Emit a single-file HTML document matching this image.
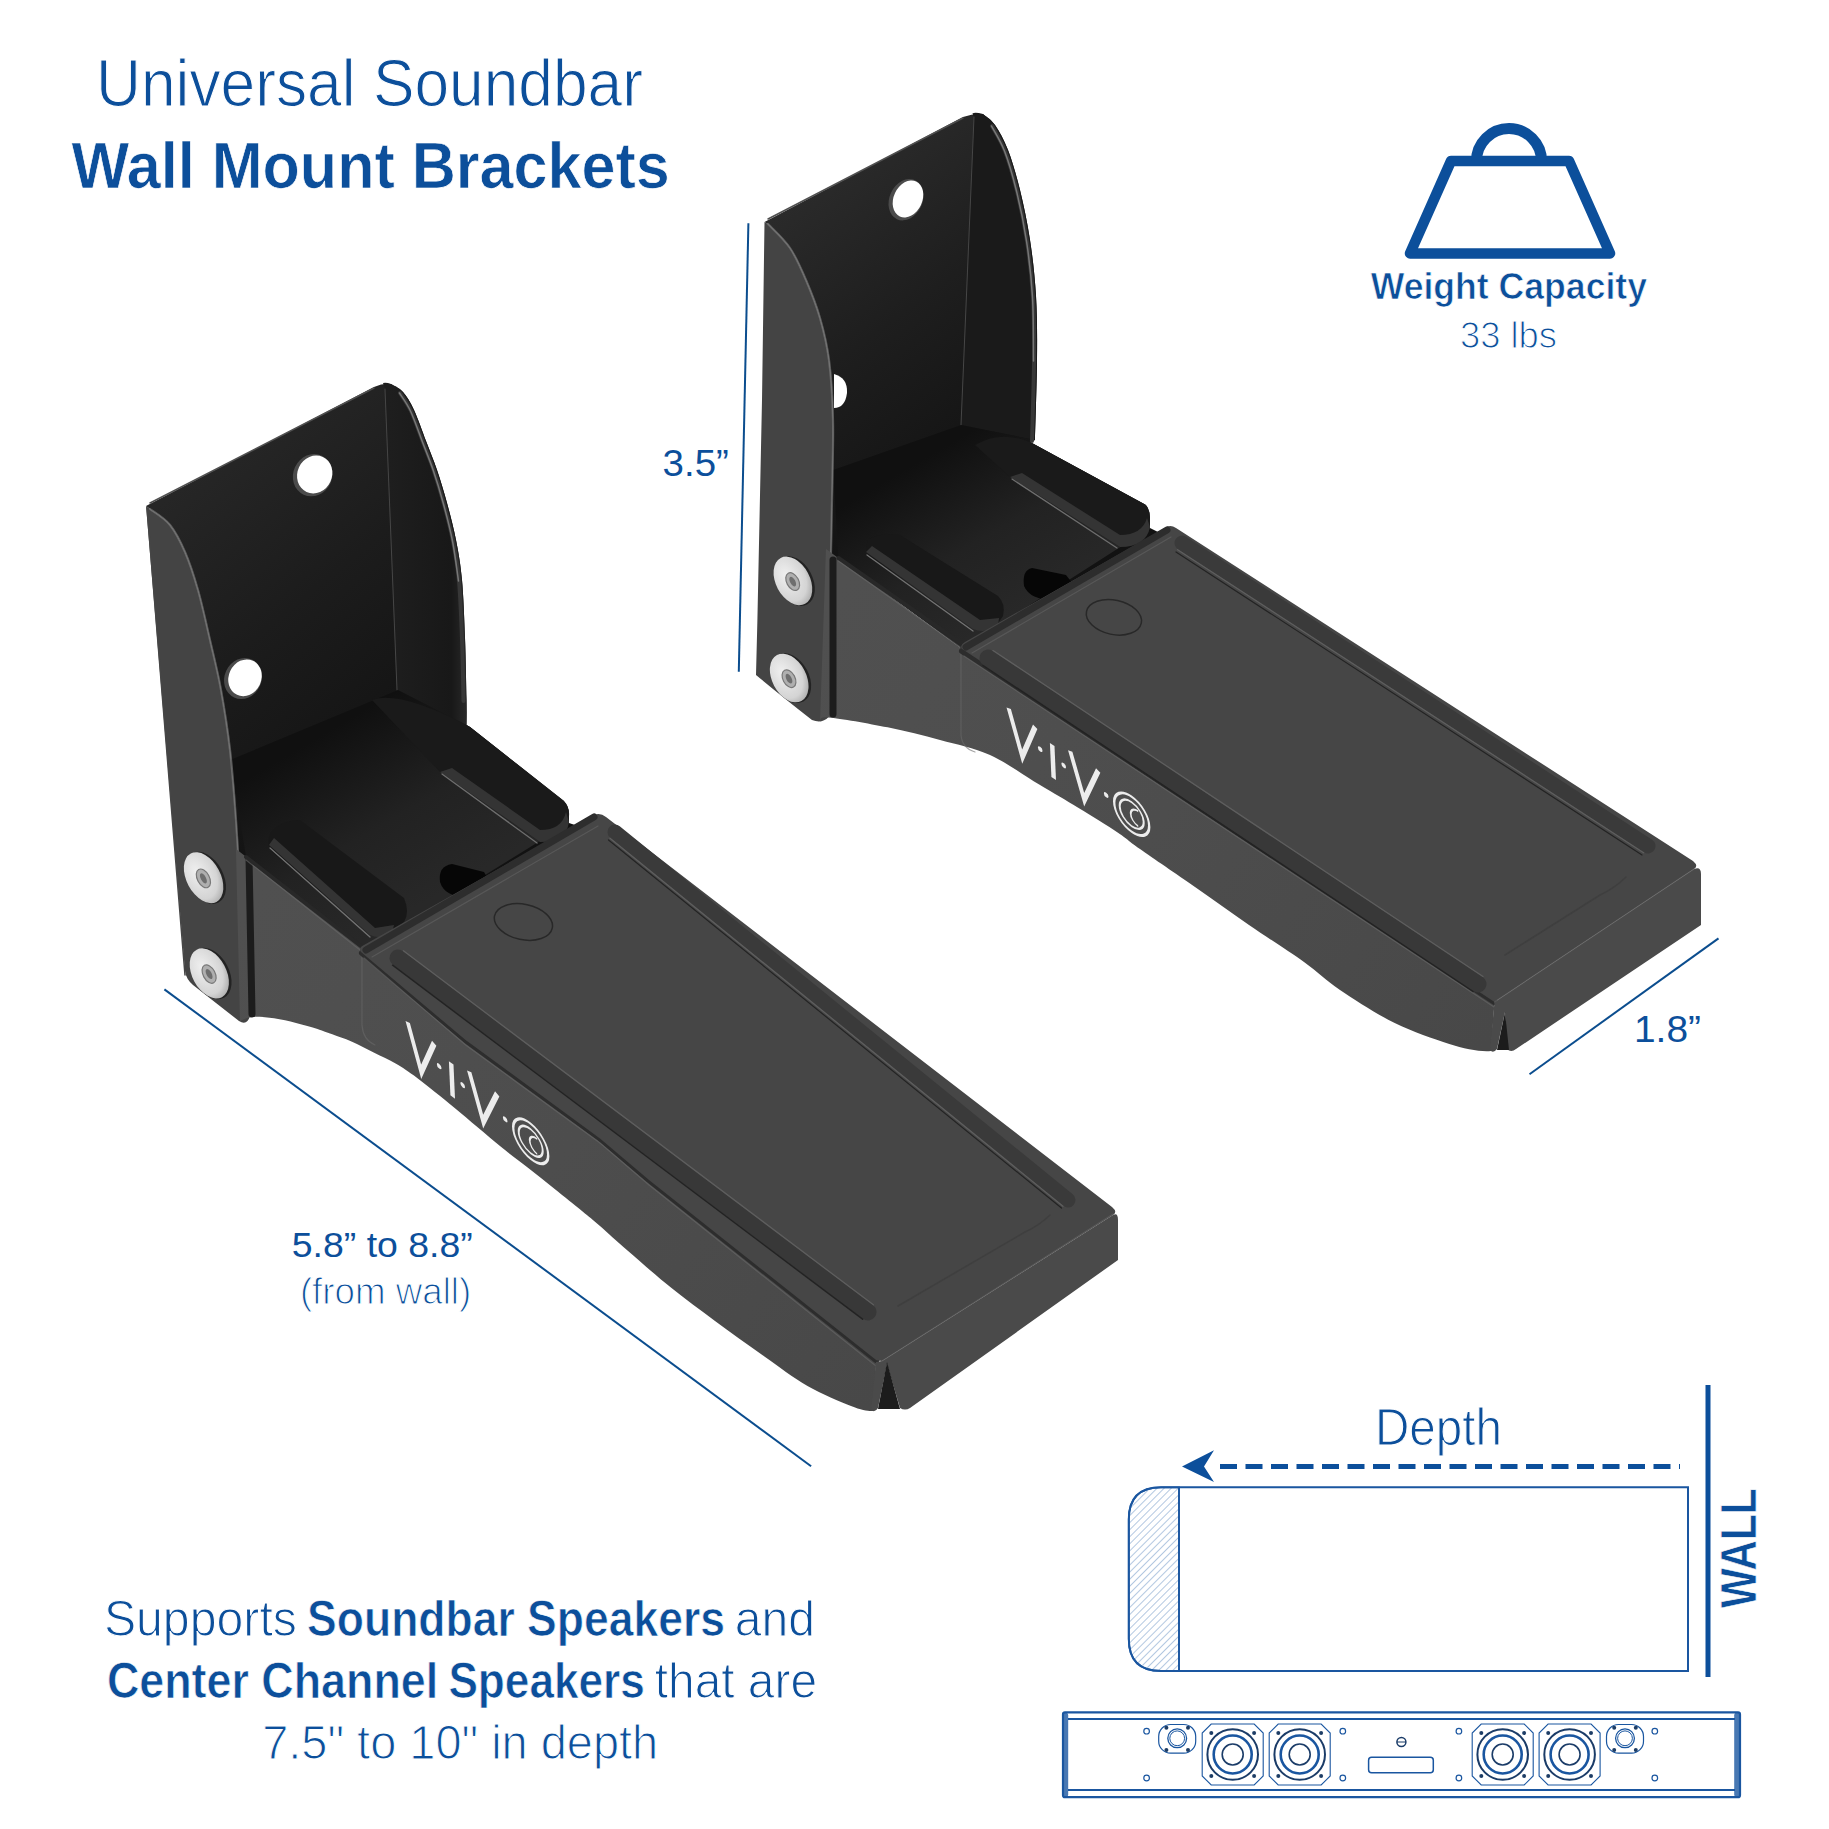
<!DOCTYPE html>
<html><head><meta charset="utf-8"><style>
html,body{margin:0;padding:0;background:#fff;}
svg{display:block;}
text{font-family:"Liberation Sans",sans-serif;fill:#0c4f9b;}
text.lt{stroke:#fff;stroke-width:1.1px;paint-order:normal;}
text[font-weight=bold]{stroke:#fff;stroke-width:0.7px;}
</style></head><body>
<svg width="1829" height="1829" viewBox="0 0 1829 1829" xmlns="http://www.w3.org/2000/svg">
<rect width="1829" height="1829" fill="#fff"/>
<defs>
<linearGradient id="bp1" gradientUnits="userSpaceOnUse" x1="190" y1="480" x2="420" y2="760">
<stop offset="0" stop-color="rgb(38,38,38)"/><stop offset="0.45" stop-color="rgb(28,28,28)"/><stop offset="1" stop-color="rgb(18,18,18)"/></linearGradient>
<linearGradient id="bp2" gradientUnits="userSpaceOnUse" x1="800" y1="200" x2="1000" y2="470">
<stop offset="0" stop-color="rgb(42,42,42)"/><stop offset="0.45" stop-color="rgb(30,30,30)"/><stop offset="1" stop-color="rgb(18,18,18)"/></linearGradient>
<linearGradient id="rf1" gradientUnits="userSpaceOnUse" x1="390" y1="0" x2="467" y2="0">
<stop offset="0" stop-color="rgb(30,30,30)"/><stop offset="0.8" stop-color="rgb(24,24,24)"/><stop offset="1" stop-color="rgb(40,40,40)"/></linearGradient>
<linearGradient id="sf1" gradientUnits="userSpaceOnUse" x1="250" y1="900" x2="880" y2="1400">
<stop offset="0" stop-color="rgb(80,80,80)"/><stop offset="0.5" stop-color="rgb(77,77,77)"/><stop offset="1" stop-color="rgb(72,72,72)"/></linearGradient>
<linearGradient id="sf2" gradientUnits="userSpaceOnUse" x1="830" y1="600" x2="1490" y2="1040">
<stop offset="0" stop-color="rgb(80,80,80)"/><stop offset="0.5" stop-color="rgb(77,77,77)"/><stop offset="1" stop-color="rgb(72,72,72)"/></linearGradient>
<linearGradient id="fl1" gradientUnits="userSpaceOnUse" x1="330" y1="730" x2="430" y2="900">
<stop offset="0" stop-color="rgb(16,16,16)"/><stop offset="0.55" stop-color="rgb(34,34,34)"/><stop offset="1" stop-color="rgb(40,40,40)"/></linearGradient>
<linearGradient id="fl2" gradientUnits="userSpaceOnUse" x1="930" y1="455" x2="1020" y2="610">
<stop offset="0" stop-color="rgb(16,16,16)"/><stop offset="0.55" stop-color="rgb(34,34,34)"/><stop offset="1" stop-color="rgb(40,40,40)"/></linearGradient>
<radialGradient id="bolt" cx="0.4" cy="0.35" r="0.75">
<stop offset="0" stop-color="#f0f0f0"/><stop offset="0.7" stop-color="#d4d4d4"/><stop offset="1" stop-color="#a0a0a0"/></radialGradient>
</defs>
<path d="M146.0 506.0 L374.0 387.0 Q383.0 383.0 391.0 384.0 C393.0 385.3 399.2 387.7 403.0 392.0 C406.8 396.3 410.2 401.8 414.0 410.0 C417.8 418.2 422.2 431.0 426.0 441.0 C429.8 451.0 433.5 459.7 437.0 470.0 C440.5 480.3 443.8 491.3 447.0 503.0 C450.2 514.7 453.5 527.2 456.0 540.0 C458.5 552.8 460.5 563.7 462.0 580.0 C463.5 596.3 464.2 618.0 465.0 638.0 C465.8 658.0 466.2 685.5 466.5 700.0 C466.8 714.5 466.5 720.8 466.5 725.0 L470.0 727.0 L564.0 801.0 Q569.0 806.0 569.0 815.0 L569.0 823.0 L578.0 826.0 L594.0 815.0 L361.0 952.0 L246.0 856.0 L241.0 900.0 C240.2 886.7 237.8 845.0 236.0 820.0 C234.2 795.0 232.5 771.7 230.0 750.0 C227.5 728.3 224.3 708.3 221.0 690.0 C217.7 671.7 213.8 656.7 210.0 640.0 C206.2 623.3 202.2 604.7 198.0 590.0 C193.8 575.3 189.7 562.8 185.0 552.0 C180.3 541.2 175.8 532.2 170.0 525.0 C164.2 517.8 153.3 511.7 150.0 509.0 Z" fill="url(#bp1)" />
<path d="M385.0 389.0 L383.0 383.0 Q386.0 382.0 391.0 384.0 C393.0 385.3 399.2 387.7 403.0 392.0 C406.8 396.3 410.2 401.8 414.0 410.0 C417.8 418.2 422.2 431.0 426.0 441.0 C429.8 451.0 433.5 459.7 437.0 470.0 C440.5 480.3 443.8 491.3 447.0 503.0 C450.2 514.7 453.5 527.2 456.0 540.0 C458.5 552.8 460.5 563.7 462.0 580.0 C463.5 596.3 464.2 618.0 465.0 638.0 C465.8 658.0 466.2 685.5 466.5 700.0 C466.8 714.5 466.5 720.8 466.5 725.0 L420.0 705.0 L397.0 690.0 Z" fill="url(#rf1)" />
<path d="M385.0 389.0 L397.0 690.0" fill="none" stroke="rgb(70,70,70)" stroke-width="1" stroke-linecap="round" stroke-linejoin="round" />
<path d="M230.0 760.0 L398.0 690.0 L466.5 725.0 L470.0 727.0 L564.0 801.0 L569.0 823.0 L361.0 952.0 L246.0 856.0 Z" fill="url(#fl1)" />
<path d="M400.0 393.0 C401.8 396.0 407.2 402.8 411.0 411.0 C414.8 419.2 419.2 432.0 423.0 442.0 C426.8 452.0 430.5 460.7 434.0 471.0 C437.5 481.3 440.8 492.3 444.0 504.0 C447.2 515.7 450.5 528.2 453.0 541.0 C455.5 553.8 457.5 564.7 459.0 581.0 C460.5 597.3 461.2 619.0 462.0 639.0 C462.8 659.0 463.2 690.7 463.5 701.0" fill="none" stroke="rgb(55,55,55)" stroke-width="4" stroke-linecap="round" stroke-linejoin="round" />
<path d="M399.5 393.0 C401.3 396.0 406.7 402.8 410.5 411.0 C414.3 419.2 418.7 432.0 422.5 442.0 C426.3 452.0 430.0 460.7 433.5 471.0 C437.0 481.3 440.3 492.3 443.5 504.0 C446.7 515.7 450.0 528.2 452.5 541.0 C455.0 553.8 457.5 574.3 458.5 581.0" fill="none" stroke="rgb(130,130,130)" stroke-width="1.5" stroke-linecap="round" stroke-linejoin="round" opacity="0.85"/>
<path d="M150.0 503.0 L374.0 388.0" fill="none" stroke="rgb(80,80,80)" stroke-width="1.5" stroke-linecap="round" stroke-linejoin="round" />
<path d="M146.0 506.0 L185.0 971.0 Q186.0 979.0 193.0 985.0 L239.0 1021.0 Q247.0 1026.0 250.0 1016.0 L249.0 1017.0 C248.5 1010.8 247.3 999.5 246.0 980.0 C244.7 960.5 242.7 926.7 241.0 900.0 C239.3 873.3 237.8 845.0 236.0 820.0 C234.2 795.0 232.5 771.7 230.0 750.0 C227.5 728.3 224.3 708.3 221.0 690.0 C217.7 671.7 213.8 656.7 210.0 640.0 C206.2 623.3 202.2 604.7 198.0 590.0 C193.8 575.3 189.7 562.8 185.0 552.0 C180.3 541.2 175.8 532.2 170.0 525.0 C164.2 517.8 153.3 511.7 150.0 509.0 Z" fill="rgb(68,68,68)" />
<path d="M150.0 509.0 C153.3 511.7 164.2 517.8 170.0 525.0 C175.8 532.2 180.3 541.2 185.0 552.0 C189.7 562.8 193.8 575.3 198.0 590.0 C202.2 604.7 206.2 623.3 210.0 640.0 C213.8 656.7 217.7 671.7 221.0 690.0 C224.3 708.3 227.5 728.3 230.0 750.0 C232.5 771.7 234.2 795.0 236.0 820.0 C237.8 845.0 239.3 873.3 241.0 900.0 C242.7 926.7 245.2 966.7 246.0 980.0" fill="none" stroke="rgb(120,120,120)" stroke-width="2.2" stroke-linecap="round" stroke-linejoin="round" opacity="0.7"/>
<path d="M147.0 508.0 L185.0 975.0" fill="none" stroke="rgb(70,70,70)" stroke-width="1.5" stroke-linecap="round" stroke-linejoin="round" />
<ellipse cx="312.7" cy="475.2" rx="19.5" ry="21.5" transform="rotate(25 312.7 475.2)" fill="rgb(75,75,75)"/><ellipse cx="314.2" cy="473.7" rx="17.3" ry="19.3" transform="rotate(25 312.7 475.2)" fill="#fff"/>
<ellipse cx="243" cy="678.5" rx="18.5" ry="21" transform="rotate(25 243 678.5)" fill="rgb(75,75,75)"/><ellipse cx="244.5" cy="677.0" rx="16.3" ry="18.8" transform="rotate(25 243 678.5)" fill="#fff"/>
<path d="M440.0 772.0 L372.0 700.0 Q400.0 690.0 470.0 727.0 L562.0 800.0 Q570.0 806.0 569.0 816.0 L569.0 822.0 Q566.0 842.0 540.0 842.0 Z" fill="rgb(26,26,26)" />
<path d="M440.0 772.0 L540.0 842.0 Q566.0 842.0 569.0 822.0 L566.0 812.0 Q562.0 830.0 540.0 830.0 L452.0 768.0 Z" fill="rgb(52,52,52)" />
<path d="M442.0 774.0 L537.0 843.0" fill="none" stroke="rgb(110,110,110)" stroke-width="1.3" stroke-linecap="round" stroke-linejoin="round" />
<path d="M270.0 834.0 Q266.0 845.0 272.0 852.0 L372.0 934.0 Q378.0 938.0 388.0 934.0 L404.0 922.0 Q410.0 912.0 404.0 898.0 L300.0 820.0 Q280.0 820.0 270.0 834.0 Z" fill="rgb(24,24,24)" />
<path d="M269.0 845.0 L370.0 935.0 Q380.0 940.0 392.0 933.0 L394.0 925.0 L375.0 928.0 L274.0 838.0 Z" fill="rgb(52,52,52)" />
<path d="M270.0 848.0 L370.0 937.0" fill="none" stroke="rgb(115,115,115)" stroke-width="1.3" stroke-linecap="round" stroke-linejoin="round" />
<path d="M452.0 864.0 L484.0 872.0 L492.0 886.0 L470.0 897.0 Q445.0 898.0 440.0 882.0 Q438.0 866.0 452.0 864.0 Z" fill="rgb(6,6,6)" />
<path d="M236.0 849.0 L362.0 947.0 L465.6 1040.0 L600.0 1138.4 L649.0 1180.0 L876.4 1360.2 L873.0 1411.0 C869.3 1411.4 861.9 1410.4 851.0 1406.0 C840.1 1401.6 822.0 1394.3 807.5 1386.0 C793.0 1377.7 779.1 1366.8 763.7 1356.0 C748.3 1345.2 730.4 1332.4 715.0 1321.0 C699.6 1309.6 685.8 1299.5 671.2 1287.8 C656.6 1276.1 639.4 1260.9 627.5 1250.6 C615.6 1240.3 607.6 1232.6 600.0 1226.0 C592.4 1219.4 589.5 1217.2 582.0 1211.0 C574.5 1204.8 563.8 1196.3 554.7 1189.0 C545.6 1181.7 536.4 1174.4 527.3 1167.2 C518.2 1160.0 512.1 1155.9 500.0 1146.0 C487.9 1136.1 468.4 1119.3 454.7 1108.0 C440.9 1096.7 427.4 1085.7 417.5 1078.3 C407.6 1070.9 402.9 1067.9 395.6 1063.6 C388.3 1059.3 381.0 1056.2 373.7 1052.6 C366.4 1048.9 359.3 1044.9 352.0 1041.7 C344.7 1038.5 335.8 1035.7 330.0 1033.6 C324.2 1031.5 323.2 1030.8 317.5 1029.0 C311.8 1027.2 303.2 1024.8 296.0 1023.0 C288.8 1021.2 281.3 1019.3 274.0 1018.3 C266.7 1017.3 257.7 1016.5 252.0 1017.0 C246.3 1017.5 242.0 1020.3 240.0 1021.0 Z" fill="url(#sf1)" />
<path d="M362.0 952.0 L362.0 1025.0 Q363.0 1040.0 375.0 1045.0" fill="none" stroke="rgb(105,105,105)" stroke-width="1.2" stroke-linecap="round" stroke-linejoin="round" opacity="0.6"/>
<path d="M249.0 858.0 L252.0 1014.0" fill="none" stroke="rgb(28,28,28)" stroke-width="7" stroke-linecap="round" stroke-linejoin="round" />
<path d="M246.0 857.0 L362.0 947.0" fill="none" stroke="rgb(40,40,40)" stroke-width="4" stroke-linecap="round" stroke-linejoin="round" />
<path d="M246.0 860.0 L360.0 950.0" fill="none" stroke="rgb(105,105,105)" stroke-width="1.2" stroke-linecap="round" stroke-linejoin="round" opacity="0.6"/>
<path d="M362.0 953.0 L465.6 1040.0 L600.0 1138.4 L649.0 1180.0 L876.4 1360.2" fill="none" stroke="rgb(45,45,45)" stroke-width="6" stroke-linecap="round" stroke-linejoin="round" />
<path d="M364.0 958.0 L465.6 1045.0 L600.0 1143.0 L649.0 1185.0 L876.0 1366.0" fill="none" stroke="rgb(105,105,105)" stroke-width="1.2" stroke-linecap="round" stroke-linejoin="round" opacity="0.6"/>
<path d="M594.0 815.0 Q600.0 812.0 606.0 817.0 L1112.0 1207.0 Q1118.0 1212.0 1113.0 1215.0 L882.0 1361.0 L876.4 1360.2 L649.0 1180.0 L600.0 1138.4 L465.6 1040.0 L361.0 952.0 Q358.0 948.0 364.0 945.0 Z" fill="rgb(70,70,70)" />
<path d="M366.0 950.0 L594.0 817.0" fill="none" stroke="rgb(45,45,45)" stroke-width="7" stroke-linecap="round" stroke-linejoin="round" />
<path d="M372.0 957.0 L598.0 826.0" fill="none" stroke="rgb(95,95,95)" stroke-width="1.2" stroke-linecap="round" stroke-linejoin="round" opacity="0.7"/>
<path d="M398.0 958.0 L868.0 1312.0" fill="none" stroke="rgb(56,56,56)" stroke-width="17" stroke-linecap="round" stroke-linejoin="round" />
<path d="M403.4 950.8 L873.4 1304.8" fill="none" stroke="rgb(100,100,100)" stroke-width="1.3" stroke-linecap="round" stroke-linejoin="round" opacity="0.8"/>
<path d="M392.6 965.2 L862.6 1319.2" fill="none" stroke="rgb(35,35,35)" stroke-width="1.5" stroke-linecap="round" stroke-linejoin="round" />
<path d="M615.0 832.0 L1068.0 1200.0" fill="none" stroke="rgb(58,58,58)" stroke-width="15" stroke-linecap="round" stroke-linejoin="round" />
<path d="M610.0 838.2 L1063.0 1206.2" fill="none" stroke="rgb(100,100,100)" stroke-width="1.3" stroke-linecap="round" stroke-linejoin="round" opacity="0.8"/>
<path d="M608.5 840.0 L1061.5 1208.0" fill="none" stroke="rgb(35,35,35)" stroke-width="1.2" stroke-linecap="round" stroke-linejoin="round" />
<path d="M1050.0 1215.0 Q1040.0 1225.0 1025.0 1232.0 L898.0 1306.0" fill="none" stroke="rgb(60,60,60)" stroke-width="1.5" stroke-linecap="round" stroke-linejoin="round" opacity="0.7"/>
<ellipse cx="523.4" cy="922" rx="29.5" ry="17.7" transform="rotate(12 523.4 922)" fill="rgb(70,70,70)" stroke="rgb(40,40,40)" stroke-width="1.5"/>
<path d="M1113.0 1215.0 Q1118.0 1212.0 1118.0 1220.0 L1118.0 1260.0 L910.0 1408.0 Q905.0 1411.0 900.0 1408.0 L887.0 1364.0 L878.0 1408.0 Q875.0 1413.0 871.0 1410.0 L876.0 1362.0 L882.0 1361.0 Z" fill="rgb(74,74,74)" />
<path d="M878.0 1409.0 L887.0 1362.0 L900.0 1409.0 Z" fill="rgb(28,28,28)" />
<path d="M882.0 1361.0 L1113.0 1214.0" fill="none" stroke="rgb(100,100,100)" stroke-width="1.2" stroke-linecap="round" stroke-linejoin="round" opacity="0.6"/>
<ellipse cx="205.1" cy="878.7" rx="18.0" ry="28.0" transform="rotate(-28 203.6 877.7)" fill="rgb(35,35,35)"/>
<ellipse cx="203.6" cy="877.7" rx="17.0" ry="27.4" transform="rotate(-28 203.6 877.7)" fill="url(#bolt)"/>
<ellipse cx="203.1" cy="878.2" rx="6.0" ry="10.1" transform="rotate(-28 203.6 877.7)" fill="rgb(175,175,175)" stroke="rgb(120,120,120)" stroke-width="1.2"/>
<ellipse cx="203.1" cy="878.2" rx="2.6" ry="5.6" transform="rotate(-28 203.6 877.7)" fill="rgb(110,110,110)"/>
<ellipse cx="210.8" cy="974.4" rx="18.0" ry="27.5" transform="rotate(-28 209.3 973.4)" fill="rgb(35,35,35)"/>
<ellipse cx="209.3" cy="973.4" rx="17.0" ry="26.9" transform="rotate(-28 209.3 973.4)" fill="url(#bolt)"/>
<ellipse cx="208.8" cy="973.9" rx="6.0" ry="9.9" transform="rotate(-28 209.3 973.4)" fill="rgb(175,175,175)" stroke="rgb(120,120,120)" stroke-width="1.2"/>
<ellipse cx="208.8" cy="973.9" rx="2.6" ry="5.5" transform="rotate(-28 209.3 973.4)" fill="rgb(110,110,110)"/>
<g transform="translate(406.2 1020.7) skewY(38.8) scale(1.0)" fill="none" stroke="#ececec" stroke-width="4.6" stroke-linejoin="miter" stroke-linecap="butt"><path d="M1.5 0 L15 39 L28 0"/><path d="M45 6 L46.5 39"/><path d="M63 0 L77 39 L91 0"/><circle cx="33" cy="19" r="2.3" fill="#ececec" stroke="none"/><circle cx="56.5" cy="19" r="2.3" fill="#ececec" stroke="none"/><circle cx="99" cy="19" r="2.3" fill="#ececec" stroke="none"/><circle cx="124.5" cy="20.5" r="17.5" stroke-width="2.4"/><circle cx="124.5" cy="20.5" r="12" stroke-width="2"/><path d="M131 13 A7.5 7.5 0 1 0 131 28" stroke-width="1.8"/></g>
<path d="M764.5 222.0 L963.0 117.0 Q972.4 113.5 983.0 114.0 C985.0 115.8 990.8 119.0 995.0 125.0 C999.2 131.0 1003.8 139.2 1008.0 150.0 C1012.2 160.8 1016.3 175.0 1020.0 190.0 C1023.7 205.0 1027.3 222.3 1030.0 240.0 C1032.7 257.7 1034.8 276.0 1036.0 296.0 C1037.2 316.0 1037.2 336.0 1037.0 360.0 C1036.8 384.0 1035.3 426.7 1035.0 440.0 L1030.0 442.0 L1146.0 505.0 Q1150.0 510.0 1150.0 518.0 L1150.0 528.0 L1158.0 532.0 L1169.6 526.3 L961.5 648.5 L838.4 557.5 L830.0 600.0 C830.3 583.3 831.5 530.0 832.0 500.0 C832.5 470.0 833.5 443.3 833.0 420.0 C832.5 396.7 831.2 377.0 829.0 360.0 C826.8 343.0 823.8 331.3 820.0 318.0 C816.2 304.7 811.0 291.7 806.0 280.0 C801.0 268.3 796.3 257.3 790.0 248.0 C783.7 238.7 771.7 228.0 768.0 224.0 Z" fill="url(#bp2)" />
<path d="M974.0 117.0 L972.4 113.5 Q975.0 112.0 983.0 114.0 C985.0 115.8 990.8 119.0 995.0 125.0 C999.2 131.0 1003.8 139.2 1008.0 150.0 C1012.2 160.8 1016.3 175.0 1020.0 190.0 C1023.7 205.0 1027.3 222.3 1030.0 240.0 C1032.7 257.7 1034.8 276.0 1036.0 296.0 C1037.2 316.0 1037.2 336.0 1037.0 360.0 C1036.8 384.0 1035.3 426.7 1035.0 440.0 L961.0 425.0 Z" fill="rgb(26,26,26)" />
<path d="M974.0 117.0 L961.0 425.0" fill="none" stroke="rgb(70,70,70)" stroke-width="1" stroke-linecap="round" stroke-linejoin="round" />
<path d="M833.0 470.0 L961.0 425.0 L1035.0 440.0 L1030.0 442.0 L1146.0 505.0 L1150.0 528.0 L961.5 648.5 L838.4 557.5 Z" fill="url(#fl2)" />
<path d="M992.0 126.0 C994.2 130.2 1000.8 140.2 1005.0 151.0 C1009.2 161.8 1013.3 176.0 1017.0 191.0 C1020.7 206.0 1024.3 223.3 1027.0 241.0 C1029.7 258.7 1031.8 277.0 1033.0 297.0 C1034.2 317.0 1034.2 337.0 1034.0 361.0 C1033.8 385.0 1032.3 427.7 1032.0 441.0" fill="none" stroke="rgb(55,55,55)" stroke-width="4" stroke-linecap="round" stroke-linejoin="round" />
<path d="M991.5 126.0 C993.7 130.2 1000.3 140.2 1004.5 151.0 C1008.7 161.8 1012.8 176.0 1016.5 191.0 C1020.2 206.0 1023.8 223.3 1026.5 241.0 C1029.2 258.7 1031.3 277.0 1032.5 297.0 C1033.7 317.0 1033.3 350.3 1033.5 361.0" fill="none" stroke="rgb(130,130,130)" stroke-width="1.5" stroke-linecap="round" stroke-linejoin="round" opacity="0.85"/>
<path d="M768.0 219.0 L963.0 118.0" fill="none" stroke="rgb(80,80,80)" stroke-width="1.5" stroke-linecap="round" stroke-linejoin="round" />
<path d="M764.5 222.0 L762.0 400.0 L757.4 620.0 L756.0 675.0 Q780.0 695.0 812.0 720.0 Q822.0 724.0 828.6 717.0 L828.6 717.0 C828.8 697.5 829.4 636.2 830.0 600.0 C830.6 563.8 831.5 530.0 832.0 500.0 C832.5 470.0 833.5 443.3 833.0 420.0 C832.5 396.7 831.2 377.0 829.0 360.0 C826.8 343.0 823.8 331.3 820.0 318.0 C816.2 304.7 811.0 291.7 806.0 280.0 C801.0 268.3 796.3 257.3 790.0 248.0 C783.7 238.7 771.7 228.0 768.0 224.0 Z" fill="rgb(68,68,68)" />
<path d="M768.0 224.0 C771.7 228.0 783.7 238.7 790.0 248.0 C796.3 257.3 801.0 268.3 806.0 280.0 C811.0 291.7 816.2 304.7 820.0 318.0 C823.8 331.3 826.8 343.0 829.0 360.0 C831.2 377.0 832.5 396.7 833.0 420.0 C833.5 443.3 832.5 470.0 832.0 500.0 C831.5 530.0 830.3 583.3 830.0 600.0" fill="none" stroke="rgb(120,120,120)" stroke-width="2.2" stroke-linecap="round" stroke-linejoin="round" opacity="0.7"/>
<ellipse cx="906" cy="199.7" rx="16.5" ry="21.5" transform="rotate(25 906 199.7)" fill="rgb(75,75,75)"/><ellipse cx="907.5" cy="198.2" rx="14.3" ry="19.3" transform="rotate(25 906 199.7)" fill="#fff"/>
<path d="M834.0 374.0 Q848.0 378.0 847.0 393.0 Q845.0 408.0 834.0 408.0 Z" fill="#fff" />
<path d="M1010.0 477.0 L975.0 445.0 Q1000.0 430.0 1030.0 442.0 L1144.0 504.0 Q1150.0 508.0 1150.0 518.0 L1150.0 527.0 Q1146.0 547.0 1120.0 547.0 Z" fill="rgb(26,26,26)" />
<path d="M1010.0 477.0 L1120.0 547.0 Q1146.0 547.0 1150.0 527.0 L1147.0 518.0 Q1142.0 535.0 1120.0 535.0 L1022.0 473.0 Z" fill="rgb(52,52,52)" />
<path d="M1012.0 479.0 L1117.0 548.0" fill="none" stroke="rgb(110,110,110)" stroke-width="1.3" stroke-linecap="round" stroke-linejoin="round" />
<path d="M868.0 540.0 Q864.0 550.0 870.0 556.0 L975.0 628.0 Q985.0 633.0 996.0 626.0 L1003.0 616.0 Q1006.0 604.0 998.0 596.0 L900.0 535.0 Q880.0 532.0 868.0 540.0 Z" fill="rgb(24,24,24)" />
<path d="M866.0 552.0 L973.0 629.0 Q985.0 634.0 998.0 626.0 L999.0 618.0 L980.0 620.0 L872.0 546.0 Z" fill="rgb(52,52,52)" />
<path d="M867.0 555.0 L973.0 631.0" fill="none" stroke="rgb(115,115,115)" stroke-width="1.3" stroke-linecap="round" stroke-linejoin="round" />
<path d="M1032.0 568.0 L1066.0 575.0 L1076.0 588.0 L1054.0 600.0 Q1030.0 600.0 1024.0 586.0 Q1022.0 570.0 1032.0 568.0 Z" fill="rgb(6,6,6)" />
<path d="M826.0 549.0 L961.5 648.5 L1494.5 1002.0 L1491.0 1051.0 C1481.2 1052.1 1464.8 1049.1 1449.3 1044.0 C1433.8 1038.9 1412.9 1032.0 1394.7 1023.0 C1376.5 1014.0 1355.1 1000.2 1340.0 990.0 C1324.9 979.8 1319.2 972.8 1304.0 962.0 C1288.8 951.2 1267.2 937.5 1249.0 925.0 C1230.8 912.5 1213.2 899.7 1195.0 887.0 C1176.8 874.3 1152.8 858.0 1140.0 849.0 C1127.2 840.0 1128.2 839.5 1118.0 832.7 C1107.8 825.9 1091.7 816.0 1078.6 808.0 C1065.5 800.0 1054.0 793.3 1039.2 784.5 C1024.4 775.7 1006.5 762.4 990.0 755.0 C973.5 747.6 957.1 744.6 940.0 740.0 C922.9 735.4 906.2 731.1 887.6 727.3 C869.0 723.5 839.9 718.3 828.6 717.4 C817.3 716.5 821.4 721.2 820.0 722.0 Z" fill="url(#sf2)" />
<path d="M961.0 652.0 L961.0 735.0 Q962.0 748.0 975.0 752.0" fill="none" stroke="rgb(105,105,105)" stroke-width="1.2" stroke-linecap="round" stroke-linejoin="round" opacity="0.6"/>
<path d="M833.0 560.0 L833.0 714.0" fill="none" stroke="rgb(28,28,28)" stroke-width="7" stroke-linecap="round" stroke-linejoin="round" />
<path d="M838.4 558.0 L962.0 644.0" fill="none" stroke="rgb(40,40,40)" stroke-width="4" stroke-linecap="round" stroke-linejoin="round" />
<path d="M838.4 561.0 L960.0 647.0" fill="none" stroke="rgb(105,105,105)" stroke-width="1.2" stroke-linecap="round" stroke-linejoin="round" opacity="0.6"/>
<path d="M962.0 651.0 L1494.5 1002.0" fill="none" stroke="rgb(45,45,45)" stroke-width="6" stroke-linecap="round" stroke-linejoin="round" />
<path d="M964.0 656.0 L1494.0 1007.0" fill="none" stroke="rgb(105,105,105)" stroke-width="1.2" stroke-linecap="round" stroke-linejoin="round" opacity="0.6"/>
<path d="M1165.0 528.0 Q1170.0 524.0 1176.0 528.0 L1693.0 861.0 Q1699.0 866.0 1694.0 869.0 L1494.5 1002.0 L961.5 648.5 Q960.0 645.0 965.0 642.0 Z" fill="rgb(70,70,70)" />
<path d="M966.0 647.0 L1167.0 530.0" fill="none" stroke="rgb(45,45,45)" stroke-width="7" stroke-linecap="round" stroke-linejoin="round" />
<path d="M972.0 653.0 L1171.0 537.0" fill="none" stroke="rgb(95,95,95)" stroke-width="1.2" stroke-linecap="round" stroke-linejoin="round" opacity="0.7"/>
<path d="M988.0 658.0 L1478.0 984.0" fill="none" stroke="rgb(56,56,56)" stroke-width="17" stroke-linecap="round" stroke-linejoin="round" />
<path d="M993.0 650.5 L1483.0 976.5" fill="none" stroke="rgb(100,100,100)" stroke-width="1.3" stroke-linecap="round" stroke-linejoin="round" opacity="0.8"/>
<path d="M983.0 665.5 L1473.0 991.5" fill="none" stroke="rgb(35,35,35)" stroke-width="1.5" stroke-linecap="round" stroke-linejoin="round" />
<path d="M1182.0 543.0 L1648.0 846.0" fill="none" stroke="rgb(58,58,58)" stroke-width="15" stroke-linecap="round" stroke-linejoin="round" />
<path d="M1177.6 549.7 L1643.6 852.7" fill="none" stroke="rgb(100,100,100)" stroke-width="1.3" stroke-linecap="round" stroke-linejoin="round" opacity="0.8"/>
<path d="M1176.0 552.0 L1642.0 855.0" fill="none" stroke="rgb(35,35,35)" stroke-width="1.2" stroke-linecap="round" stroke-linejoin="round" />
<path d="M1626.0 877.0 Q1615.0 888.0 1600.0 895.0 L1505.0 955.0" fill="none" stroke="rgb(60,60,60)" stroke-width="1.5" stroke-linecap="round" stroke-linejoin="round" opacity="0.7"/>
<ellipse cx="1113.9" cy="617.3" rx="28" ry="17.2" transform="rotate(12 1113.9 617.3)" fill="rgb(70,70,70)" stroke="rgb(40,40,40)" stroke-width="1.5"/>
<path d="M1694.0 869.0 Q1701.0 866.0 1701.0 874.0 L1701.0 925.0 L1516.0 1049.0 Q1511.0 1053.0 1507.0 1049.0 L1505.0 1012.0 L1497.0 1049.0 Q1493.0 1054.0 1490.0 1050.0 L1494.5 1002.0 Z" fill="rgb(74,74,74)" />
<path d="M1497.0 1050.0 L1505.0 1012.0 L1509.0 1050.0 Z" fill="rgb(28,28,28)" />
<path d="M1494.5 1002.0 L1694.0 869.0" fill="none" stroke="rgb(100,100,100)" stroke-width="1.2" stroke-linecap="round" stroke-linejoin="round" opacity="0.6"/>
<ellipse cx="794.4" cy="581.9" rx="18.0" ry="26.5" transform="rotate(-28 792.9 580.9)" fill="rgb(35,35,35)"/>
<ellipse cx="792.9" cy="580.9" rx="17.0" ry="26.0" transform="rotate(-28 792.9 580.9)" fill="url(#bolt)"/>
<ellipse cx="792.4" cy="581.4" rx="6.0" ry="9.5" transform="rotate(-28 792.9 580.9)" fill="rgb(175,175,175)" stroke="rgb(120,120,120)" stroke-width="1.2"/>
<ellipse cx="792.4" cy="581.4" rx="2.6" ry="5.3" transform="rotate(-28 792.9 580.9)" fill="rgb(110,110,110)"/>
<ellipse cx="790.7" cy="679" rx="18.0" ry="26.5" transform="rotate(-28 789.2 678)" fill="rgb(35,35,35)"/>
<ellipse cx="789.2" cy="678" rx="17.0" ry="26.0" transform="rotate(-28 789.2 678)" fill="url(#bolt)"/>
<ellipse cx="788.7" cy="678.5" rx="6.0" ry="9.5" transform="rotate(-28 789.2 678)" fill="rgb(175,175,175)" stroke="rgb(120,120,120)" stroke-width="1.2"/>
<ellipse cx="788.7" cy="678.5" rx="2.6" ry="5.3" transform="rotate(-28 789.2 678)" fill="rgb(110,110,110)"/>
<g transform="translate(1007.2 707.2) skewY(34.8) scale(1.0)" fill="none" stroke="#ececec" stroke-width="4.6" stroke-linejoin="miter" stroke-linecap="butt"><path d="M1.5 0 L15 39 L28 0"/><path d="M45 6 L46.5 39"/><path d="M63 0 L77 39 L91 0"/><circle cx="33" cy="19" r="2.3" fill="#ececec" stroke="none"/><circle cx="56.5" cy="19" r="2.3" fill="#ececec" stroke="none"/><circle cx="99" cy="19" r="2.3" fill="#ececec" stroke="none"/><circle cx="124.5" cy="20.5" r="17.5" stroke-width="2.4"/><circle cx="124.5" cy="20.5" r="12" stroke-width="2"/><path d="M131 13 A7.5 7.5 0 1 0 131 28" stroke-width="1.8"/></g>
<path d="M1451 161 L1569 161 L1610 253.4 L1410 253.4 Z" fill="none" stroke="#0c4f9b" stroke-width="10.5" stroke-linejoin="round"/>
<path d="M1476.5 161 A32.5 32.5 0 0 1 1541.5 161" fill="none" stroke="#0c4f9b" stroke-width="11"/>
<line x1="748.4" y1="223.2" x2="738.8" y2="671.7" stroke="#0b4d8e" stroke-width="2"/>
<line x1="164.4" y1="989.4" x2="811.1" y2="1466.2" stroke="#0b4d8e" stroke-width="2"/>
<line x1="1718.5" y1="938.4" x2="1529.5" y2="1074.2" stroke="#0b4d8e" stroke-width="2"/>
<line x1="1220" y1="1466.5" x2="1680" y2="1466.5" stroke="#0c4f9b" stroke-width="5" stroke-dasharray="17 8.5"/>
<path d="M1182 1466.5 L1214 1450.3 L1204 1466.5 L1214 1482 Z" fill="#0c4f9b"/>
<defs><pattern id="hatch" width="5" height="5" patternUnits="userSpaceOnUse" patternTransform="rotate(45)"><line x1="0" y1="0" x2="0" y2="5" stroke="#7fa3cc" stroke-width="1.2"/></pattern></defs>
<path d="M1179 1487.3 L1161 1487.3 Q1128.8 1487.3 1128.8 1519.3 L1128.8 1638.9 Q1128.8 1670.9 1161 1670.9 L1179 1670.9 Z" fill="url(#hatch)" stroke="#1a56a0" stroke-width="1.8"/>
<path d="M1161 1487.3 L1688 1487.3 L1688 1670.9 L1161 1670.9 Q1128.8 1670.9 1128.8 1638.9 L1128.8 1519.3 Q1128.8 1487.3 1161 1487.3 Z" fill="none" stroke="#1a56a0" stroke-width="2"/>
<line x1="1179" y1="1487.3" x2="1179" y2="1670.9" stroke="#1a56a0" stroke-width="1.5"/>
<line x1="1708" y1="1385" x2="1708" y2="1677" stroke="#0c4f9b" stroke-width="5"/>
<rect x="1063" y="1712.4" width="677" height="84.8" rx="2" fill="none" stroke="#1a56a0" stroke-width="2.2"/>
<line x1="1068" y1="1719.1" x2="1735" y2="1719.1" stroke="#1a56a0" stroke-width="2"/>
<line x1="1068" y1="1790" x2="1735" y2="1790" stroke="#1a56a0" stroke-width="2"/>
<rect x="1062.4" y="1712.4" width="5.8" height="84.8" rx="2.9" fill="#1a56a0" opacity="0.8"/>
<rect x="1734.2" y="1712.4" width="5.8" height="84.8" rx="2.9" fill="#1a56a0" opacity="0.8"/>
<circle cx="1146.6" cy="1731.2" r="2.8" fill="none" stroke="#1a56a0" stroke-width="1.2"/>
<circle cx="1146.6" cy="1778" r="2.8" fill="none" stroke="#1a56a0" stroke-width="1.2"/>
<circle cx="1342.8" cy="1731.2" r="2.8" fill="none" stroke="#1a56a0" stroke-width="1.2"/>
<circle cx="1342.8" cy="1778" r="2.8" fill="none" stroke="#1a56a0" stroke-width="1.2"/>
<circle cx="1458.9" cy="1731.2" r="2.8" fill="none" stroke="#1a56a0" stroke-width="1.2"/>
<circle cx="1458.9" cy="1778" r="2.8" fill="none" stroke="#1a56a0" stroke-width="1.2"/>
<circle cx="1654.8" cy="1731.2" r="2.8" fill="none" stroke="#1a56a0" stroke-width="1.2"/>
<circle cx="1654.8" cy="1778" r="2.8" fill="none" stroke="#1a56a0" stroke-width="1.2"/>
<rect x="1158.7" y="1724.5" width="37" height="28.7" rx="12" fill="none" stroke="#1a56a0" stroke-width="1.2"/>
<circle cx="1177.2" cy="1738.3" r="9.4" fill="none" stroke="#1a56a0" stroke-width="1.3"/>
<circle cx="1177.2" cy="1738.3" r="7.4" fill="none" stroke="#1a56a0" stroke-width="1"/>
<circle cx="1166.4" cy="1727.7" r="2" fill="#1d3d66"/>
<circle cx="1166.4" cy="1750.0" r="2" fill="#1d3d66"/>
<circle cx="1188.0" cy="1727.7" r="2" fill="#1d3d66"/>
<circle cx="1188.0" cy="1750.0" r="2" fill="#1d3d66"/>
<rect x="1606.5" y="1724.5" width="37" height="28.7" rx="12" fill="none" stroke="#1a56a0" stroke-width="1.2"/>
<circle cx="1625" cy="1738.3" r="9.4" fill="none" stroke="#1a56a0" stroke-width="1.3"/>
<circle cx="1625" cy="1738.3" r="7.4" fill="none" stroke="#1a56a0" stroke-width="1"/>
<circle cx="1614.2" cy="1727.7" r="2" fill="#1d3d66"/>
<circle cx="1614.2" cy="1750.0" r="2" fill="#1d3d66"/>
<circle cx="1635.8" cy="1727.7" r="2" fill="#1d3d66"/>
<circle cx="1635.8" cy="1750.0" r="2" fill="#1d3d66"/>
<polygon points="1211.2,1724.0 1254.2,1724.0 1263.2,1733.0 1263.2,1776.0 1254.2,1785.0 1211.2,1785.0 1202.2,1776.0 1202.2,1733.0" fill="none" stroke="#1a56a0" stroke-width="1.1"/>
<circle cx="1232.7" cy="1754.5" r="25.3" fill="none" stroke="#1b3c68" stroke-width="2"/>
<circle cx="1232.7" cy="1754.5" r="19" fill="none" stroke="#1a56a0" stroke-width="2.6"/>
<circle cx="1232.7" cy="1754.5" r="10.5" fill="none" stroke="#1b3c68" stroke-width="1.6"/>
<circle cx="1211.3" cy="1733.1" r="2" fill="#1d3d66"/>
<circle cx="1211.3" cy="1775.9" r="2" fill="#1d3d66"/>
<circle cx="1254.1000000000001" cy="1733.1" r="2" fill="#1d3d66"/>
<circle cx="1254.1000000000001" cy="1775.9" r="2" fill="#1d3d66"/>
<polygon points="1278.2,1724.0 1321.2,1724.0 1330.2,1733.0 1330.2,1776.0 1321.2,1785.0 1278.2,1785.0 1269.2,1776.0 1269.2,1733.0" fill="none" stroke="#1a56a0" stroke-width="1.1"/>
<circle cx="1299.7" cy="1754.5" r="25.3" fill="none" stroke="#1b3c68" stroke-width="2"/>
<circle cx="1299.7" cy="1754.5" r="19" fill="none" stroke="#1a56a0" stroke-width="2.6"/>
<circle cx="1299.7" cy="1754.5" r="10.5" fill="none" stroke="#1b3c68" stroke-width="1.6"/>
<circle cx="1278.3" cy="1733.1" r="2" fill="#1d3d66"/>
<circle cx="1278.3" cy="1775.9" r="2" fill="#1d3d66"/>
<circle cx="1321.1000000000001" cy="1733.1" r="2" fill="#1d3d66"/>
<circle cx="1321.1000000000001" cy="1775.9" r="2" fill="#1d3d66"/>
<polygon points="1481.2,1724.0 1524.2,1724.0 1533.2,1733.0 1533.2,1776.0 1524.2,1785.0 1481.2,1785.0 1472.2,1776.0 1472.2,1733.0" fill="none" stroke="#1a56a0" stroke-width="1.1"/>
<circle cx="1502.7" cy="1754.5" r="25.3" fill="none" stroke="#1b3c68" stroke-width="2"/>
<circle cx="1502.7" cy="1754.5" r="19" fill="none" stroke="#1a56a0" stroke-width="2.6"/>
<circle cx="1502.7" cy="1754.5" r="10.5" fill="none" stroke="#1b3c68" stroke-width="1.6"/>
<circle cx="1481.3" cy="1733.1" r="2" fill="#1d3d66"/>
<circle cx="1481.3" cy="1775.9" r="2" fill="#1d3d66"/>
<circle cx="1524.1000000000001" cy="1733.1" r="2" fill="#1d3d66"/>
<circle cx="1524.1000000000001" cy="1775.9" r="2" fill="#1d3d66"/>
<polygon points="1548.1,1724.0 1591.1,1724.0 1600.1,1733.0 1600.1,1776.0 1591.1,1785.0 1548.1,1785.0 1539.1,1776.0 1539.1,1733.0" fill="none" stroke="#1a56a0" stroke-width="1.1"/>
<circle cx="1569.6" cy="1754.5" r="25.3" fill="none" stroke="#1b3c68" stroke-width="2"/>
<circle cx="1569.6" cy="1754.5" r="19" fill="none" stroke="#1a56a0" stroke-width="2.6"/>
<circle cx="1569.6" cy="1754.5" r="10.5" fill="none" stroke="#1b3c68" stroke-width="1.6"/>
<circle cx="1548.1999999999998" cy="1733.1" r="2" fill="#1d3d66"/>
<circle cx="1548.1999999999998" cy="1775.9" r="2" fill="#1d3d66"/>
<circle cx="1591.0" cy="1733.1" r="2" fill="#1d3d66"/>
<circle cx="1591.0" cy="1775.9" r="2" fill="#1d3d66"/>
<rect x="1368.6" y="1757.2" width="64.7" height="15.5" rx="3" fill="none" stroke="#1a56a0" stroke-width="1.5"/>
<circle cx="1401.4" cy="1742" r="4.5" fill="none" stroke="#1b3c68" stroke-width="1.5"/>
<line x1="1397" y1="1742" x2="1406" y2="1742" stroke="#1b3c68" stroke-width="1"/>
<text x="96" y="105.6" font-size="66.9" textLength="547" lengthAdjust="spacingAndGlyphs" class="lt" >Universal Soundbar</text>
<text x="71.4" y="187.8" font-size="64.8" font-weight="bold" textLength="598.4" lengthAdjust="spacingAndGlyphs" >Wall Mount Brackets</text>
<text x="1370.7" y="299.4" font-size="36.9" font-weight="bold" textLength="276.3" lengthAdjust="spacingAndGlyphs" >Weight Capacity</text>
<text x="1460" y="347.7" font-size="36.9" textLength="97" lengthAdjust="spacingAndGlyphs" class="lt" >33 lbs</text>
<text x="662.6" y="475.8" font-size="37.2" textLength="66.2" lengthAdjust="spacingAndGlyphs" >3.5&#8221;</text>
<text x="1634" y="1042" font-size="36.2" textLength="67" lengthAdjust="spacingAndGlyphs" >1.8&#8221;</text>
<text x="291.8" y="1256.7" font-size="35.9" textLength="181" lengthAdjust="spacingAndGlyphs" >5.8&#8221; to 8.8&#8221;</text>
<text x="299.9" y="1304.2" font-size="36.3" textLength="171.3" lengthAdjust="spacingAndGlyphs" class="lt" >(from wall)</text>
<text x="1375" y="1444.7" font-size="50.9" textLength="127" lengthAdjust="spacingAndGlyphs" class="lt" >Depth</text>
<text x="0" y="0" font-size="49.4" font-weight="bold" textLength="119.3" lengthAdjust="spacingAndGlyphs" transform="translate(1756 1607.9) rotate(-90)">WALL</text>
<text x="103.9" y="1636.3" font-size="49.4" textLength="193" lengthAdjust="spacingAndGlyphs" class="lt" >Supports</text>
<text x="307.1" y="1636.3" font-size="49.4" font-weight="bold" textLength="417.9" lengthAdjust="spacingAndGlyphs" >Soundbar Speakers</text>
<text x="734.8" y="1636.3" font-size="49.4" textLength="80.2" lengthAdjust="spacingAndGlyphs" class="lt" >and</text>
<text x="106.9" y="1698.2" font-size="49.4" font-weight="bold" textLength="331.3" lengthAdjust="spacingAndGlyphs" >Center Channel</text>
<text x="448.4" y="1698.2" font-size="49.4" font-weight="bold" textLength="196.5" lengthAdjust="spacingAndGlyphs" >Speakers</text>
<text x="654.8" y="1698.2" font-size="49.4" textLength="162.2" lengthAdjust="spacingAndGlyphs" class="lt" >that are</text>
<text x="262.2" y="1759.4" font-size="48" textLength="396" lengthAdjust="spacingAndGlyphs" class="lt" >7.5&quot; to 10&quot; in depth</text>
</svg></body></html>
